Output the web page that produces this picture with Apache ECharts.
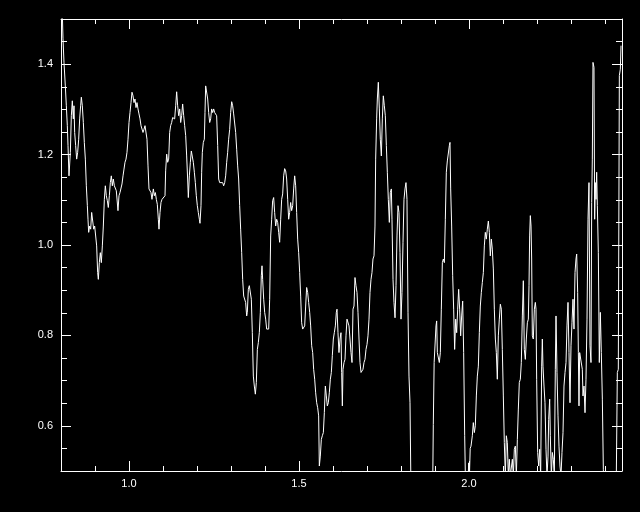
<!DOCTYPE html>
<html><head><meta charset="utf-8">
<script src="https://cdn.jsdelivr.net/npm/echarts@6/dist/echarts.min.js"></script>
<style>html,body{margin:0;padding:0;background:#000;}#c{width:640px;height:512px;}</style>
</head><body><div id="c"></div>
<script>
// wavelength values (x)
const wl = [
0.8029,0.8059,0.8088,0.8127,0.8157,0.8186,0.8206,0.8235,0.8275,0.8304,0.8333,0.8363,0.8382,0.8402,0.8431,0.8461,0.8490,0.8520,0.8549,0.8578,
0.8598,0.8627,0.8657,0.8686,0.8716,0.8745,0.8775,0.8794,0.8814,0.8843,0.8873,0.8902,0.8931,0.8961,0.8990,0.9020,0.9049,0.9078,0.9098,0.9127,
0.9157,0.9186,0.9216,0.9245,0.9275,0.9304,0.9333,0.9363,0.9392,0.9422,0.9451,0.9480,0.9510,0.9539,0.9569,0.9598,0.9627,0.9657,0.9676,0.9706,
0.9735,0.9765,0.9794,0.9824,0.9853,0.9882,0.9912,0.9941,0.9971,1.0000,1.0029,1.0059,1.0088,1.0118,1.0147,1.0176,1.0206,1.0235,1.0265,1.0294,
1.0324,1.0353,1.0382,1.0412,1.0441,1.0471,1.0500,1.0529,1.0559,1.0588,1.0618,1.0647,1.0676,
1.0716,1.0745,1.0775,1.0804,1.0833,1.0863,1.0882,1.0912,1.0941,1.0971,1.1000,1.1029,1.1059,1.1078,1.1108,1.1137,1.1167,1.1196,1.1225,1.1255,
1.1284,1.1314,1.1343,1.1373,1.1402,1.1431,1.1461,1.1490,1.1520,1.1549,1.1578,1.1608,1.1637,1.1667,1.1696,1.1725,1.1745,1.1775,1.1804,1.1833,
1.1863,1.1892,1.1922,1.1951,1.1980,1.2010,1.2039,1.2069,1.2088,1.2118,1.2137,1.2157,1.2186,1.2216,1.2235,1.2255,1.2284,1.2314,1.2343,1.2373,
1.2402,1.2431,1.2461,1.2490,1.2520,1.2549,1.2578,1.2608,1.2637,1.2667,1.2696,1.2725,1.2755,1.2784,1.2814,1.2843,1.2873,1.2902,1.2931,1.2961,
1.2990,1.3020,1.3049,1.3078,1.3108,1.3137,1.3167,1.3196,1.3225,1.3255,1.3284,1.3314,1.3343,1.3373,1.3402,1.3431,1.3461,
1.3480,1.3510,1.3539,1.3569,1.3598,1.3627,1.3657,1.3686,1.3716,1.3745,1.3775,1.3804,1.3833,1.3863,1.3892,1.3912,1.3931,1.3961,1.3990,1.4020,
1.4049,1.4078,1.4108,1.4137,1.4167,1.4196,1.4225,1.4255,1.4284,1.4314,1.4343,1.4373,1.4402,1.4431,1.4461,1.4490,1.4520,1.4549,1.4578,1.4608,
1.4637,1.4667,1.4696,1.4725,1.4755,1.4784,1.4814,1.4843,1.4873,1.4902,1.4931,1.4961,1.4990,1.5020,1.5049,1.5078,1.5108,1.5137,1.5167,1.5196,
1.5225,1.5255,1.5284,1.5314,1.5343,1.5373,1.5402,1.5431,1.5461,1.5490,1.5520,1.5549,1.5578,1.5598,1.5627,1.5657,1.5686,1.5716,1.5745,1.5775,
1.5804,1.5833,1.5863,1.5892,1.5922,1.5951,1.5980,1.6010,1.6039,1.6069,1.6098,1.6118,1.6147,1.6176,1.6206,1.6235,
1.6255,1.6275,1.6294,1.6324,1.6353,1.6382,1.6412,1.6441,1.6471,1.6500,1.6529,1.6559,1.6588,1.6618,1.6647,1.6676,1.6706,1.6735,1.6765,1.6794,
1.6824,1.6853,1.6882,1.6912,1.6941,1.6971,1.7000,1.7029,1.7059,1.7088,1.7118,1.7147,1.7176,1.7206,1.7235,1.7255,1.7284,1.7304,1.7333,1.7363,
1.7392,1.7422,1.7451,1.7480,1.7510,1.7539,1.7569,1.7598,1.7627,1.7657,1.7686,1.7716,1.7735,1.7765,1.7794,1.7824,1.7853,1.7882,1.7912,1.7941,
1.7971,1.8000,1.8029,1.8059,1.8088,1.8118,1.8147,1.8176,1.8206,1.8235,1.8265,1.8294,1.8450,1.8700,1.8930,1.8950,1.8975,
1.9010,1.9029,1.9049,1.9069,1.9098,1.9127,1.9157,1.9186,1.9216,1.9245,1.9275,1.9304,1.9333,1.9363,1.9392,1.9422,1.9441,1.9461,1.9490,1.9520,
1.9549,1.9578,1.9608,1.9637,1.9667,1.9696,1.9725,1.9755,1.9784,1.9814,1.9843,1.9873,1.9902,1.9940,1.9990,2.0010,2.0035,2.0059,2.0098,2.0127,
2.0157,2.0186,2.0216,2.0245,2.0275,2.0304,2.0333,2.0363,2.0392,2.0422,2.0451,2.0480,2.0510,2.0539,2.0569,2.0598,2.0627,2.0657,2.0686,2.0716,
2.0745,2.0775,2.0804,2.0833,2.0863,2.0892,2.0922,2.0951,2.0980,2.1010,2.1039,2.1069,2.1098,2.1127,2.1157,2.1186,2.1216,2.1245,2.1275,2.1304,
2.1333,2.1363,2.1392,2.1422,2.1451,2.1480,2.1510,2.1539,2.1569,2.1598,2.1627,2.1657,2.1686,2.1716,2.1745,
2.1765,2.1784,2.1804,2.1824,2.1843,2.1863,2.1892,2.1922,2.1951,2.1971,2.1990,2.2020,2.2049,2.2078,2.2108,2.2137,2.2157,2.2176,2.2206,2.2235,
2.2265,2.2294,2.2324,2.2343,2.2373,2.2392,2.2422,2.2451,2.2480,2.2510,2.2539,2.2559,2.2588,2.2618,2.2647,2.2676,2.2706,2.2735,2.2765,2.2794,
2.2824,2.2853,2.2882,2.2912,2.2941,2.2971,2.3000,2.3029,2.3059,2.3088,2.3118,2.3147,2.3167,2.3196,2.3216,2.3235,2.3255,2.3275,2.3304,2.3333,
2.3353,2.3382,2.3412,2.3441,2.3471,2.3500,2.3529,2.3559,2.3588,2.3608,2.3627,2.3647,2.3676,2.3696,2.3716,2.3735,2.3755,2.3775,2.3804,2.3833,
2.3863,2.3892,2.3922,2.3951,2.3980,2.4100,2.4250,2.4333,2.4363,2.4392,2.4422,2.4451,2.4471
];
// flux values (y)
const flux = [
1.540,1.456,1.404,1.352,1.308,1.264,1.220,1.153,1.205,1.286,1.319,1.279,1.308,1.249,1.220,1.190,1.205,1.234,1.279,1.308,
1.327,1.308,1.271,1.227,1.190,1.131,1.087,1.057,1.028,1.042,1.035,1.072,1.076,1.035,1.042,1.042,0.998,0.939,0.924,0.961,
0.983,0.961,0.998,1.042,1.101,1.131,1.109,1.098,1.083,1.109,1.138,1.153,1.131,1.146,1.131,1.135,1.120,1.116,1.076,1.109,
1.116,1.116,1.135,1.153,1.168,1.183,1.190,1.205,1.234,1.271,1.293,1.315,1.338,1.330,1.315,1.323,1.304,1.315,1.301,1.290,
1.279,1.264,1.260,1.249,1.256,1.264,1.260,1.234,1.175,1.124,1.127,1.116,1.101,
1.124,1.109,1.116,1.101,1.090,1.057,1.035,1.072,1.094,1.101,1.098,1.101,1.109,1.164,1.201,1.183,1.190,1.249,1.264,1.271,
1.282,1.286,1.279,1.308,1.339,1.308,1.286,1.301,1.271,1.286,1.312,1.286,1.264,1.242,1.197,1.146,1.105,1.153,1.183,1.208,
1.205,1.183,1.161,1.138,1.109,1.087,1.072,1.057,1.048,1.087,1.161,1.205,1.227,1.234,1.293,1.352,1.356,1.323,1.293,1.271,
1.279,1.301,1.293,1.301,1.293,1.297,1.286,1.220,1.146,1.138,1.142,1.135,1.138,1.131,1.138,1.153,1.183,1.205,1.234,1.256,
1.293,1.317,1.308,1.290,1.286,1.249,1.212,1.175,1.146,1.087,1.035,0.983,0.924,0.887,0.891,0.873,0.843,
0.851,0.902,0.910,0.906,0.880,0.806,0.710,0.688,0.670,0.696,0.769,0.784,0.806,0.851,0.932,0.954,0.924,0.880,0.851,0.836,
0.814,0.817,0.814,0.880,1.020,1.057,1.098,1.105,1.072,1.042,1.057,1.050,1.028,1.006,1.057,1.101,1.113,1.153,1.169,1.164,
1.146,1.101,1.057,1.072,1.094,1.076,1.087,1.124,1.153,1.131,1.072,1.013,0.983,0.939,0.887,0.828,0.814,0.810,0.821,0.865,
0.906,0.895,0.873,0.851,0.821,0.777,0.762,0.725,0.703,0.673,0.651,0.640,0.622,0.511,0.533,0.570,0.578,0.585,0.629,0.688,
0.666,0.644,0.651,0.673,0.703,0.718,0.755,0.792,0.806,0.821,0.851,0.858,0.806,0.762,0.792,0.806,
0.718,0.644,0.725,0.740,0.747,0.799,0.836,0.839,0.821,0.792,0.762,0.740,0.858,0.865,0.928,0.910,0.895,0.851,0.792,0.740,
0.718,0.714,0.725,0.740,0.747,0.769,0.780,0.799,0.836,0.895,0.924,0.939,0.969,0.976,1.042,1.190,1.279,1.323,1.360,1.301,
1.234,1.197,1.279,1.330,1.308,1.286,1.220,1.161,1.101,1.050,1.116,1.124,1.057,0.924,0.873,0.839,0.910,1.020,1.087,1.072,
0.983,0.836,0.895,1.006,1.101,1.124,1.138,1.101,0.851,0.710,0.651,0.450,0.400,0.380,0.450,0.603,0.740,
0.740,0.821,0.832,0.762,0.762,0.740,0.762,0.858,0.961,0.969,0.961,1.057,1.161,1.186,1.183,1.220,1.227,1.124,1.042,0.932,
0.858,0.769,0.836,0.806,0.858,0.902,0.858,0.799,0.843,0.876,0.762,0.578,0.450,0.400,0.518,0.480,0.550,0.555,0.578,0.607,
0.585,0.600,0.666,0.710,0.732,0.806,0.865,0.895,0.917,0.939,0.998,1.028,1.013,1.035,1.053,1.028,0.976,1.013,0.991,0.947,
0.858,0.792,0.762,0.703,0.799,0.836,0.869,0.858,0.769,0.666,0.563,0.489,0.578,0.563,0.489,0.526,0.489,0.489,0.526,0.489,
0.548,0.555,0.489,0.570,0.637,0.696,0.703,0.740,0.843,0.921,0.769,0.747,0.792,0.828,0.836,
0.910,1.020,1.065,1.042,0.969,0.799,0.792,0.858,0.873,0.858,0.703,0.541,0.511,0.548,0.489,0.732,0.792,0.732,0.688,0.651,
0.548,0.489,0.533,0.614,0.659,0.578,0.489,0.541,0.526,0.489,0.725,0.843,0.718,0.622,0.555,0.511,0.489,0.541,0.585,0.688,
0.718,0.740,0.821,0.873,0.762,0.651,0.777,0.828,0.880,0.814,0.939,0.969,0.980,0.895,0.762,0.644,0.762,0.766,0.762,0.725,
0.666,0.688,0.629,0.703,0.836,1.057,1.138,0.777,0.740,1.094,1.190,1.404,1.393,1.057,1.138,1.101,1.161,1.087,0.983,0.740,
0.851,0.762,0.659,0.504,0.450,0.400,0.420,0.490,0.718,0.725,1.375,1.389,1.441
];
const xMajor = [1.0, 1.5, 2.0];
const yMajor = [0.6, 0.8, 1.0, 1.2, 1.4];

const W = '#ffffff';
const pairs = wl.map((x, i) => [x, flux[i]]);
const lab = {color: W, fontSize: 11, fontFamily: 'Liberation Sans', formatter: v => Number(v).toFixed(1)};
function xAx(pos, major) {
  const a = {type: 'value', min: 0.8, max: 2.45, position: pos, splitLine: {show: false}};
  if (major) {
    a.axisLine = {show: true, lineStyle: {color: W, width: 1}};
    a.axisTick = {show: true, inside: true, length: 10, customValues: xMajor, lineStyle: {color: W}};
    a.axisLabel = pos === 'bottom' ? Object.assign({customValues: xMajor, margin: 7}, lab) : {show: false};
  } else {
    a.interval = 0.1;
    a.axisLine = {show: false};
    a.axisTick = {show: true, inside: true, length: 5, lineStyle: {color: W}};
    a.axisLabel = {show: false};
  }
  return a;
}
function yAx(pos, major) {
  const a = {type: 'value', min: 0.5, max: 1.5, position: pos, splitLine: {show: false}};
  if (major) {
    a.axisLine = {show: true, lineStyle: {color: W, width: 1}};
    a.axisTick = {show: true, inside: true, length: 10, customValues: yMajor, lineStyle: {color: W}};
    a.axisLabel = pos === 'left' ? Object.assign({customValues: yMajor, margin: 8}, lab) : {show: false};
  } else {
    a.interval = 0.05;
    a.axisLine = {show: false};
    a.axisTick = {show: true, inside: true, length: 6, lineStyle: {color: W}};
    a.axisLabel = {show: false};
  }
  return a;
}
const chart = echarts.init(document.getElementById('c'), null, {renderer: 'canvas'});
chart.setOption({
  backgroundColor: '#000000',
  animation: false,
  grid: {left: 61, right: 18, top: 19, bottom: 41, containLabel: false},
  xAxis: [xAx('bottom', true), xAx('bottom', false), xAx('top', true), xAx('top', false)],
  yAxis: [yAx('left', true), yAx('left', false), yAx('right', true), yAx('right', false)],
  series: [{
    type: 'line', xAxisIndex: 0, yAxisIndex: 0, data: pairs,
    showSymbol: false, symbol: 'none', clip: true,
    lineStyle: {color: W, width: 1}
  }]
});
</script>
</body></html>
